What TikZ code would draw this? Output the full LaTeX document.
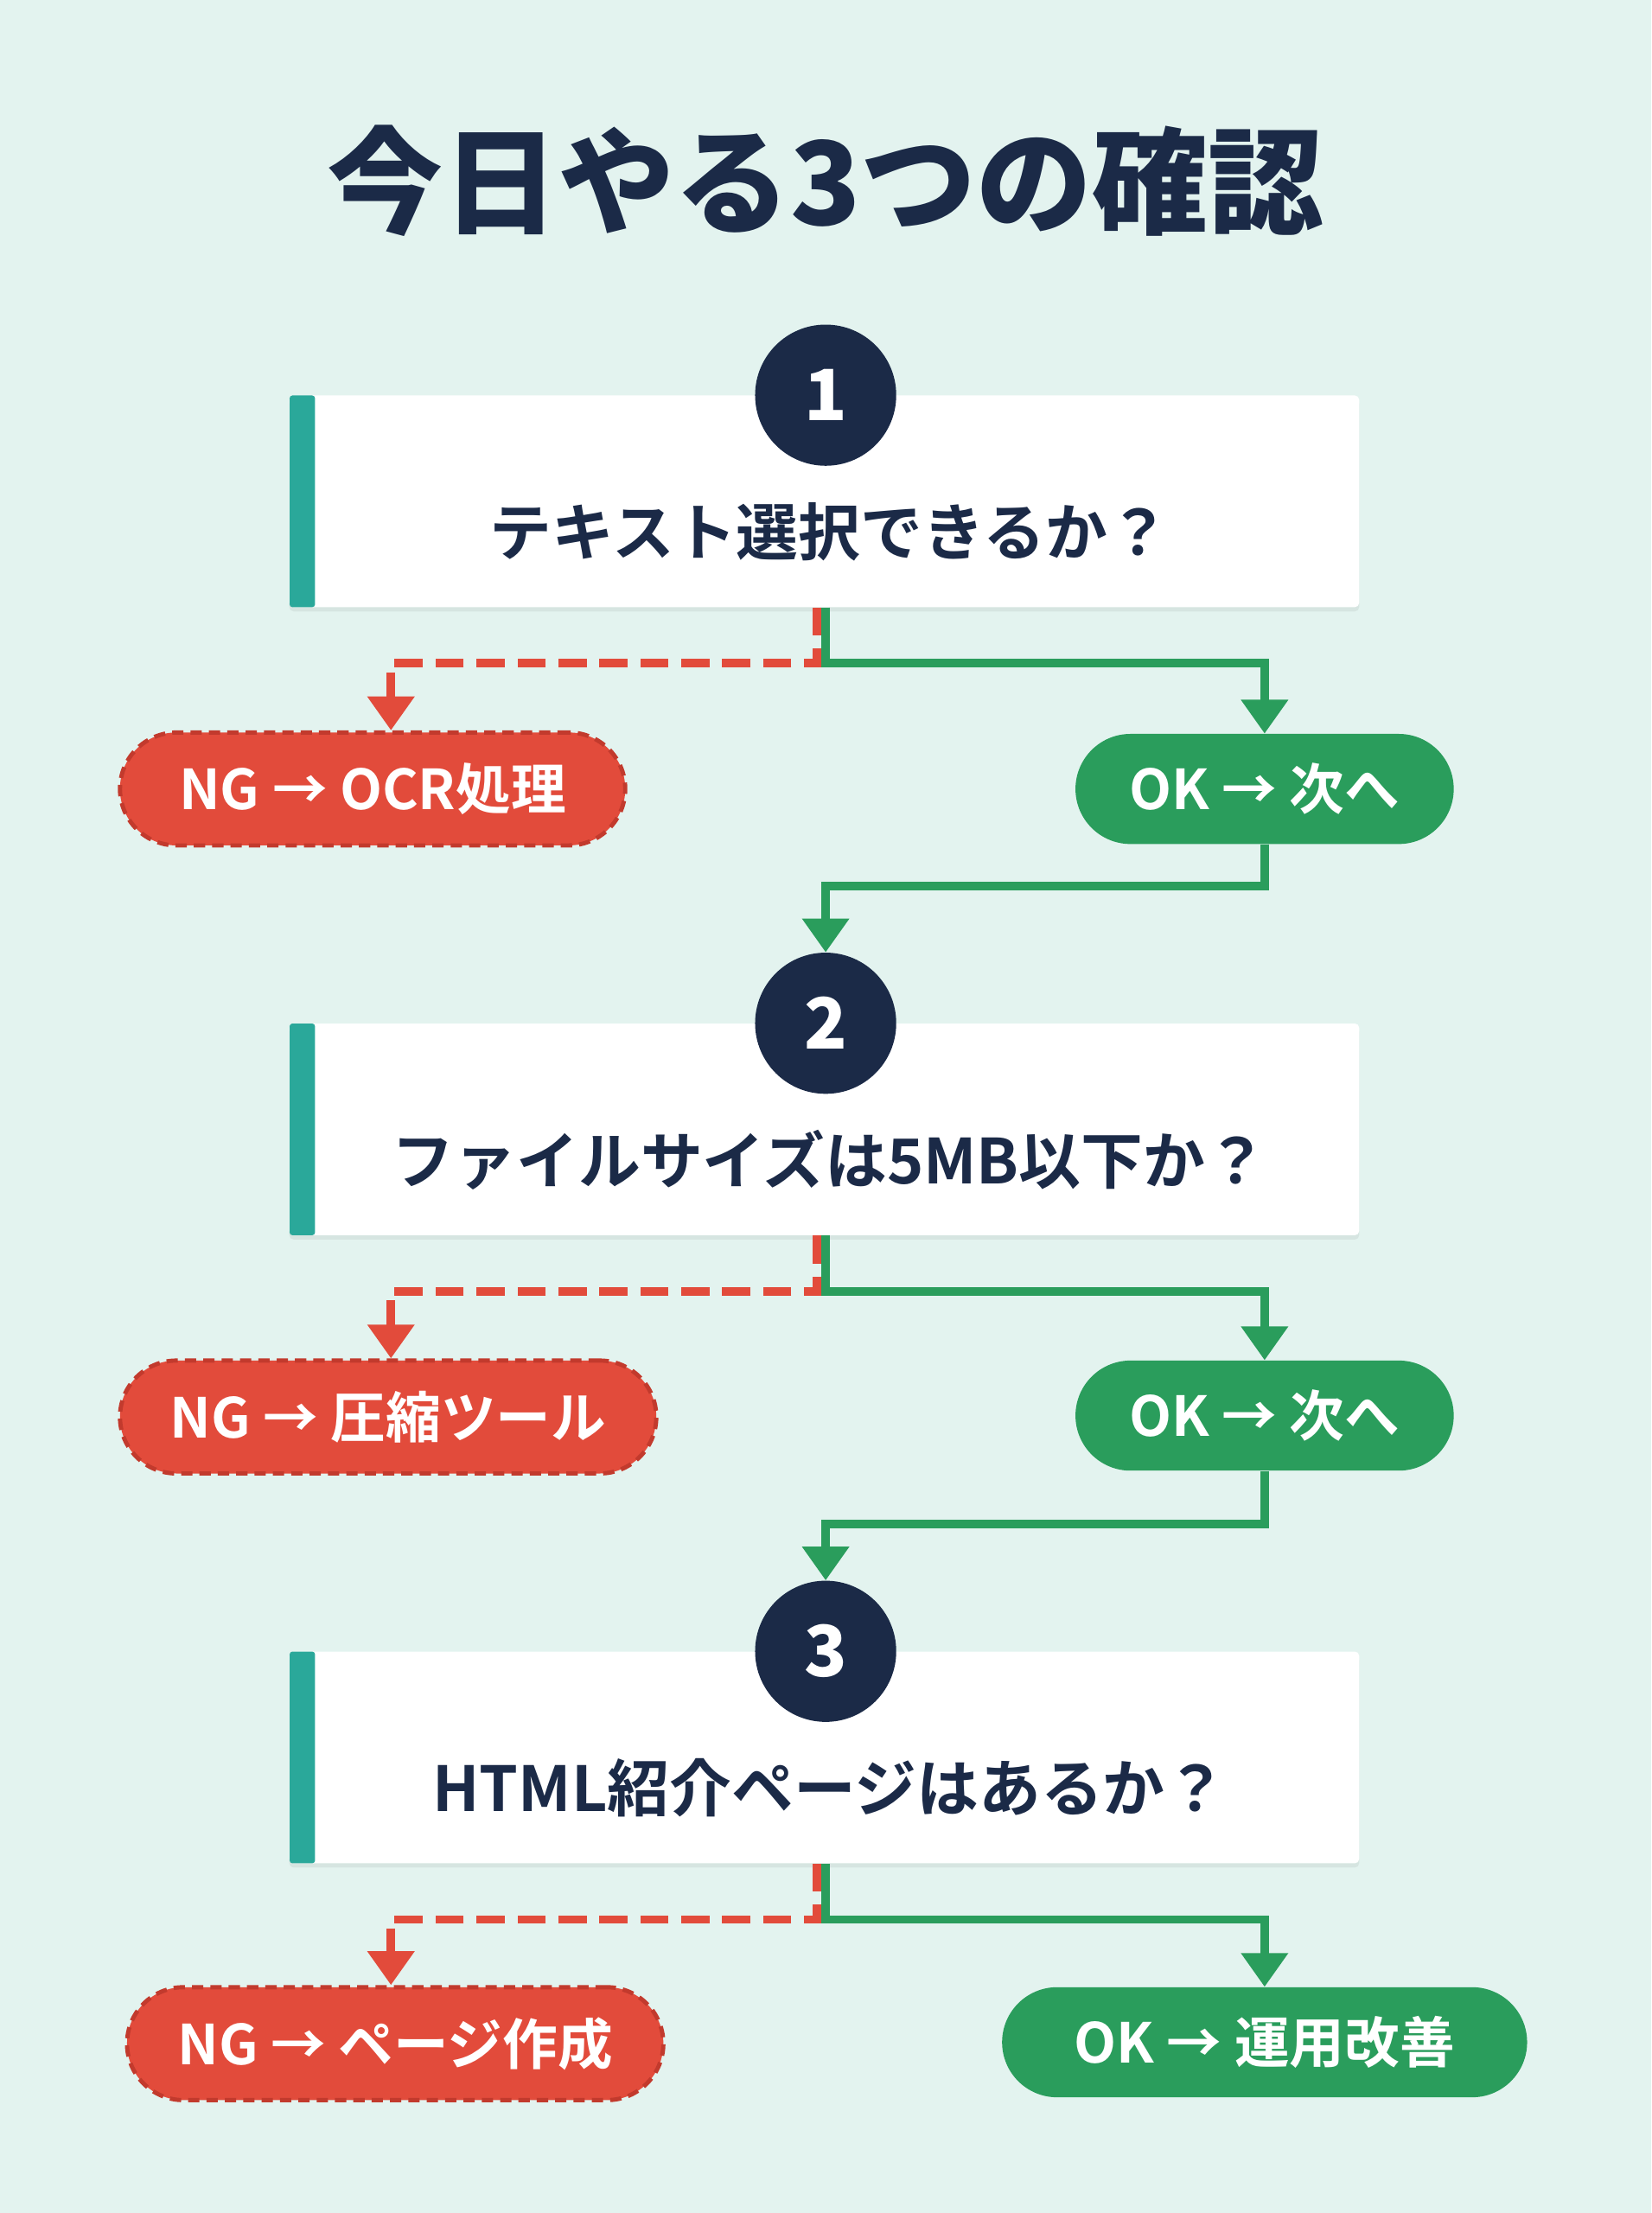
\documentclass[tikz,border=0pt]{standalone}
\usepackage{fontspec}
\newfontfamily\jp{Noto Sans CJK JP}[UprightFont=* Bold]
\newfontfamily\jpb{Noto Sans CJK JP}[UprightFont=* Black]
\usetikzlibrary{arrows.meta,shadows}
\definecolor{bg}{HTML}{E3F3EF}
\definecolor{navy}{HTML}{1B2A47}
\definecolor{teal}{HTML}{2AA89A}
\definecolor{ngred}{HTML}{E24B3B}
\definecolor{ngdark}{HTML}{C23A2D}
\definecolor{okgreen}{HTML}{2A9D5C}
\begin{document}
\begin{tikzpicture}[x=1pt,y=-1pt,
  box/.style={fill=white,draw=none,minimum width=758pt,minimum height=150pt,rounded corners=3pt,drop shadow={shadow xshift=0pt,shadow yshift=-3pt,opacity=0.12}},
  bar/.style={fill=teal,minimum width=18pt,minimum height=150pt,inner sep=0pt,rounded corners=2pt},
  num/.style={circle,fill=navy,minimum size=100pt,inner sep=0pt,text=white,font=\jpb\fontsize{50}{50}\selectfont},
  q/.style={text=navy,font=\jp\fontsize{44}{44}\selectfont},
  ng/.style={fill=ngred,draw=ngdark,line width=3pt,dash pattern=on 8pt off 5pt,rounded corners=40pt,minimum height=80pt,text=white,font=\jp\fontsize{39}{39}\selectfont},
  ok/.style={fill=okgreen,rounded corners=39pt,minimum height=78pt,text=white,font=\jp\fontsize{39}{39}\selectfont},
  gline/.style={draw=okgreen,line width=6pt},
  rline/.style={draw=ngred,line width=6pt,dash pattern=on 20pt off 9pt},
  tip/.style={-{Triangle[width=32pt,length=24pt]}}
]
\fill[bg] (0,0) rectangle (1170,1568);
\node[text=navy,font=\jpb\fontsize{82}{82}\selectfont] (title) at (585,128) {今日やる3つの確認};

\foreach \i/\y/\t in {1/280/テキスト選択できるか？,2/725/ファイルサイズは5MB以下か？,3/1170/HTML紹介ページはあるか？}{
  \node[box,anchor=north] (b\i) at (584,\y) {};
  \node[bar,anchor=north west] (bar\i) at (205,\y) {};
  \node[num] (c\i) at (585,\y) {\i};
  \node[q] (t\i) at (588,\y+97) {\t};
}
\node[ng,minimum width=358pt] (ng1) at (264,559) {NG → OCR処理};
\node[ok,minimum width=268pt] (ok1) at (896,559) {OK → 次へ};
\node[ng,minimum width=380pt] (ng2) at (275,1004) {NG → 圧縮ツール};
\node[ok,minimum width=268pt] (ok2) at (896,1003) {OK → 次へ};
\node[ng,minimum width=380pt] (ng3) at (280,1448) {NG → ページ作成};
\node[ok,minimum width=372pt] (ok3) at (896,1447) {OK → 運用改善};

\foreach \i/\y in {1/470,2/915,3/1360}{
  \coordinate (nx\i) at (277,\y);
  \coordinate (ox\i) at (896,\y);
  \draw[gline,tip] ([xshift=1pt]b\i.south) |- (ox\i) -- (ox\i |- ok\i.north);
  \draw[rline,tip] ([xshift=-5pt]b\i.south) |- (nx\i) -- (nx\i |- ng\i.north);
}
\draw[gline,tip] (ok1.south) |- (585,628) -- (c2.north);
\draw[gline,tip] (ok2.south) |- (585,1080) -- (c3.north);
\end{tikzpicture}
\end{document}
